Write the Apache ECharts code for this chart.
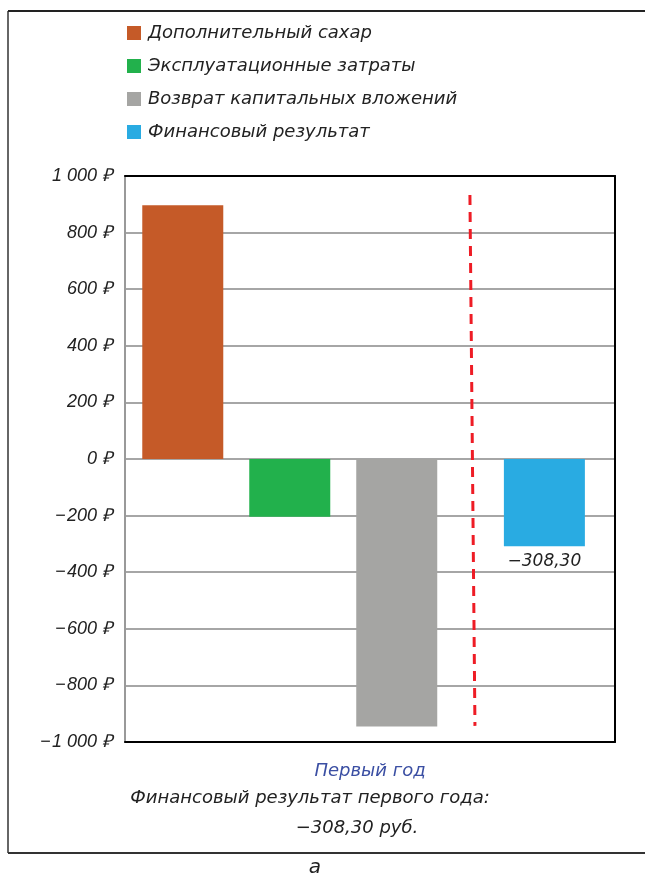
<!DOCTYPE html>
<html>
<head>
<meta charset="utf-8">
<script src="https://cdn.jsdelivr.net/npm/echarts@6/dist/echarts.min.js"></script>
<style>
  html, body { margin: 0; padding: 0; background: #fff; }
  #chart { width: 645px; height: 873px; }
</style>
</head>
<body>
<div id="chart"></div>
<script>
// series names as in the legend
const seriesNames = ['Дополнительный сахар', 'Эксплуатационные затраты', 'Возврат капитальных вложений', 'Финансовый результат']
const seriesValues = [897, -204, -945, -308.3]
const seriesColors = ['#c55a28', '#22b14c', '#a5a5a3', '#29abe2']
// where each bar sits along the (hidden) horizontal scale
const barSlots = [0.54, 1.54, 2.54, 3.92]
const categoryLabel = 'Первый год'
const yTicks = [-1000, -800, -600, -400, -200, 0, 200, 400, 600, 800, 1000]
// red dashed divider between costs and the result
const dividerX = [3.224, 3.271]
const dividerY = [933, -943]

const font = 'DejaVu Sans'

function rub(v) {
  const s = Math.abs(v).toString().replace(/\B(?=(\d{3})+(?!\d))/g, ' ')
  return (v < 0 ? '\u2212\u200a' : '') + s + ' \u20bd'
}

const chart = echarts.init(document.getElementById('chart'))

const series = seriesNames.map((name, i) => ({
  name: name,
  type: 'bar',
  barWidth: 81,
  barGap: '-100%',
  itemStyle: { color: seriesColors[i] },
  data: [[barSlots[i], seriesValues[i]]],
  label: i === 3 ? {
    show: true,
    position: 'bottom',
    distance: 7,
    formatter: p => '\u2212' + Math.abs(p.value[1]).toFixed(2).replace('.', ','),
    fontFamily: font,
    fontStyle: 'italic',
    fontSize: 17,
    color: '#222'
  } : { show: false }
}))

series.push({
  type: 'line',
  name: 'divider',
  symbol: 'none',
  silent: true,
  z: 5,
  lineStyle: { color: '#ee1c25', width: 3, type: [10, 7] },
  data: dividerX.map((x, i) => [x, dividerY[i]])
})

const frameLine = { show: true, onZero: false, lineStyle: { color: '#000', width: 2 } }

chart.setOption({
  animation: false,
  backgroundColor: '#fff',
  legend: {
    data: seriesNames,
    orient: 'vertical',
    left: 122,
    top: 19,
    icon: 'rect',
    itemWidth: 14,
    itemHeight: 14,
    itemGap: 15,
    textStyle: { fontFamily: font, fontStyle: 'italic', fontSize: 18, color: '#222', padding: [0, 0, 0, 2] }
  },
  grid: {
    left: 125,
    top: 176,
    width: 490,
    height: 566,
    containLabel: false
  },
  xAxis: [{
    type: 'value',
    min: 0,
    max: 4.58,
    axisLine: frameLine,
    axisTick: { show: false },
    axisLabel: { show: false },
    splitLine: { show: false },
    name: categoryLabel,
    nameLocation: 'middle',
    nameGap: 20,
    nameTextStyle: { fontFamily: font, fontStyle: 'italic', fontSize: 18, color: '#3b4fa3' }
  }, {
    type: 'value',
    position: 'top',
    min: 0,
    max: 4.58,
    axisLine: frameLine,
    axisTick: { show: false },
    axisLabel: { show: false },
    splitLine: { show: false }
  }],
  yAxis: [{
    type: 'value',
    min: yTicks[0],
    max: yTicks[yTicks.length - 1],
    interval: 200,
    axisLine: { show: true, onZero: false, lineStyle: { color: '#999', width: 2 } },
    axisTick: { show: false },
    axisLabel: {
      margin: 13,
      formatter: rub,
      fontFamily: 'Liberation Sans',
      fontStyle: 'italic',
      fontSize: 18,
      color: '#222'
    },
    splitLine: {
      show: true,
      lineStyle: { color: '#a6a6a6', width: 2 }
    }
  }, {
    type: 'value',
    position: 'right',
    min: yTicks[0],
    max: yTicks[yTicks.length - 1],
    interval: 200,
    axisLine: frameLine,
    axisTick: { show: false },
    axisLabel: { show: false },
    splitLine: { show: false }
  }],
  graphic: [
    { type: 'line', shape: { x1: 8, y1: 11, x2: 8, y2: 853 }, style: { stroke: '#666', lineWidth: 2 } },
    { type: 'line', shape: { x1: 8, y1: 11, x2: 645, y2: 11 }, style: { stroke: '#222', lineWidth: 2 } },
    { type: 'line', shape: { x1: 8, y1: 853, x2: 645, y2: 853 }, style: { stroke: '#333', lineWidth: 2 } },
    {
      type: 'text',
      x: 310, y: 798,
      style: { text: 'Финансовый результат первого года:', font: 'italic 18px "DejaVu Sans"', fill: '#222', align: 'center', verticalAlign: 'middle' }
    },
    {
      type: 'text',
      x: 357, y: 828,
      style: { text: '\u2212308,30 руб.', font: 'italic 18px "DejaVu Sans"', fill: '#222', align: 'center', verticalAlign: 'middle' }
    },
    {
      type: 'text',
      x: 315, y: 868,
      style: { text: 'а', font: 'italic 20px "DejaVu Sans"', fill: '#222', align: 'center', verticalAlign: 'middle' }
    }
  ],
  series: series
})
</script>
</body>
</html>
